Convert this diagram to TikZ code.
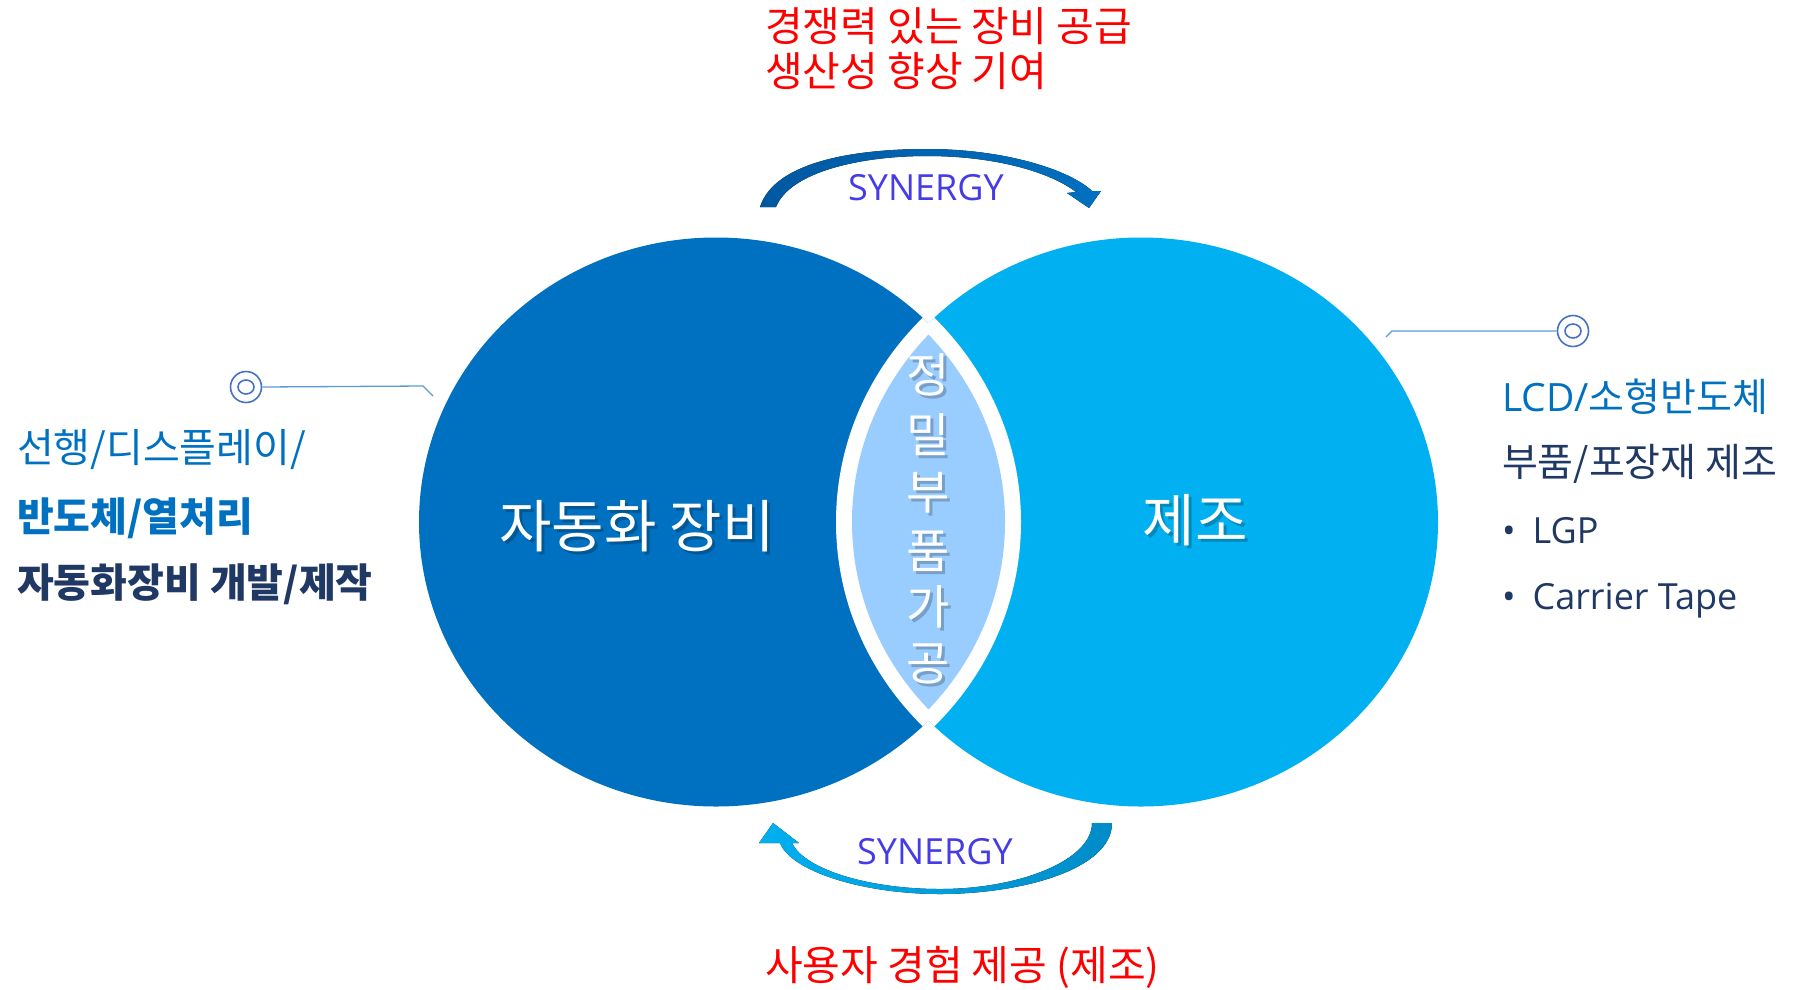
\documentclass[tikz,border=0pt]{standalone}
\usepackage{fontspec}
\setmainfont{Noto Sans CJK KR}
\newfontfamily\latin{Open Sans}
\definecolor{darkb}{HTML}{0070C0}
\definecolor{brightb}{HTML}{00B0F0}
\definecolor{lensb}{HTML}{99CCFF}
\definecolor{navy}{HTML}{203864}
\definecolor{syn}{RGB}{70,60,230}
\definecolor{callout}{HTML}{4472C4}
\definecolor{calloutline}{HTML}{5B9BD5}
\definecolor{topdark}{RGB}{0,88,160}
\definecolor{botdark}{RGB}{0,140,200}
\newcommand{\fsz}[1]{\fontsize{#1pt}{#1pt}\selectfont}
\tikzset{
  lbl/.style={inner sep=0pt, outer sep=0pt},
  redtxt/.style={lbl, anchor=west, text=red, font=\fsz{41}},
  syntxt/.style={lbl, text=syn, font=\latin\fsz{36}},
  shadowtxt/.style={lbl, text=black, opacity=0.22},
  whitetxt/.style={lbl, text=white},
  lenschar/.style={lbl, text=white, font=\fsz{47}},
  lensshadow/.style={lbl, text=black, opacity=0.22, font=\fsz{47}},
  ring/.style={circle, draw=callout, line width=1.6pt, minimum size=31pt, inner sep=0pt},
  leader/.style={calloutline, line width=1.3pt},
}
\begin{document}
\begin{tikzpicture}[x=1pt,y=-1pt]
\useasboundingbox (0,0) rectangle (1799,989);
% circles
\fill[darkb] (716,522) ellipse [x radius=297pt, y radius=284.5pt];
\fill[brightb] (1141,522) ellipse [x radius=297pt, y radius=284.5pt];
\begin{scope}
  \clip (716,522) ellipse [x radius=297pt, y radius=284.5pt];
  \fill[white] (1141,522) ellipse [x radius=297pt, y radius=284.5pt];
  \draw[white, line width=16pt] (1141,522) ellipse [x radius=297pt, y radius=284.5pt];
\end{scope}
\begin{scope}
  \clip (1141,522) ellipse [x radius=297pt, y radius=284.5pt];
  \draw[white, line width=16pt] (716,522) ellipse [x radius=297pt, y radius=284.5pt];
\end{scope}
\begin{scope}
  \clip (716,522) ellipse [x radius=289pt, y radius=276.5pt];
  \fill[lensb] (1141,522) ellipse [x radius=289pt, y radius=276.5pt];
\end{scope}
% circle labels with shadows
\node[shadowtxt, font=\fsz{57}] at (640,529) {자동화 장비};
\node[shadowtxt, font=\fsz{57}] at (1198,523) {제조};
\node[whitetxt, font=\fsz{57}] (auto) at (637,526) {자동화 장비};
\node[whitetxt, font=\fsz{57}] (mfg) at (1195,520) {제조};
% vertical lens text
\foreach \c/\y [count=\i] in {정/375, 밀/435, 부/493, 품/551, 가/607, 공/664} {
  \node[lensshadow] at (931,\y+3) {\c};
  \node[lenschar] (lens\i) at (928,\y) {\c};
}
% top arrow
\fill[left color=topdark, right color=darkb]
  (760,207) .. controls (775,160) and (860,149) .. (927,149)
  .. controls (1005,149) and (1070,170) .. (1092,191)
  -- (1101,191) -- (1089,208) -- (1067,193) -- (1076,192)
  .. controls (1050,172) and (995,156) .. (927,156)
  .. controls (860,156) and (790,172) .. (776,207) -- cycle;
% bottom arrow
\fill[left color=brightb, middle color=brightb, right color=botdark]
  (1112,823) .. controls (1112,870) and (1020,894) .. (940,894)
  .. controls (860,894) and (790,870) .. (780,843)
  -- (759,843) -- (773,823) -- (799,843) -- (792,843)
  .. controls (805,870) and (870,889) .. (940,889)
  .. controls (1020,889) and (1092,860) .. (1092,823) -- cycle;
\node[syntxt] (syntop) at (926,188) {SYNERGY};
\node[syntxt] (synbot) at (935,852) {SYNERGY};
% red texts
\node[redtxt] (red1) at (765,26) {경쟁력 있는 장비 공급};
\node[redtxt] (red2) at (765,71) {생산성 향상 기여};
\node[redtxt] (red3) at (765,967) {사용자 경험 제공 (제조)};
% left callout
\node[ring] (lring) at (246,387) {};
\draw[callout, line width=1.6pt] (lring.center) ellipse [x radius=8pt, y radius=7pt];
\coordinate (lend) at (433,396);
\draw[leader] (lring.east) -- (423,386) -- (lend);
\node[lbl, anchor=west, text=darkb, font=\fsz{40}] (lt1) at (17,450) {선행/디스플레이/};
\node[lbl, anchor=west, text=darkb, font=\bfseries\fsz{40}] (lt2) at (17,518) {반도체/열처리};
\node[lbl, anchor=west, text=navy, font=\bfseries\fsz{40}] (lt3) at (17,584) {자동화장비 개발/제작};
% right callout
\node[ring] (rring) at (1573,331) {};
\draw[callout, line width=1.6pt] (rring.center) ellipse [x radius=8pt, y radius=7pt];
\coordinate (rend) at (1386,337);
\draw[leader] (rring.west) -- (1392,331) -- (rend);
\node[lbl, anchor=west, text=darkb, font=\fsz{39}] (rt1) at (1502,397) {{\latin LCD/}소형반도체};
\node[lbl, anchor=west, text=navy, font=\fsz{39}] (rt2) at (1502,464) {부품/포장재 제조};
\node[lbl, anchor=west, text=navy, font=\latin\fsz{36}] (rb1) at (1502,531) {•\hspace{17pt}LGP};
\node[lbl, anchor=west, text=navy, font=\latin\fsz{36}] (rb2) at (1502,601) {•\hspace{17pt}Carrier Tape};
\end{tikzpicture}
\end{document}
